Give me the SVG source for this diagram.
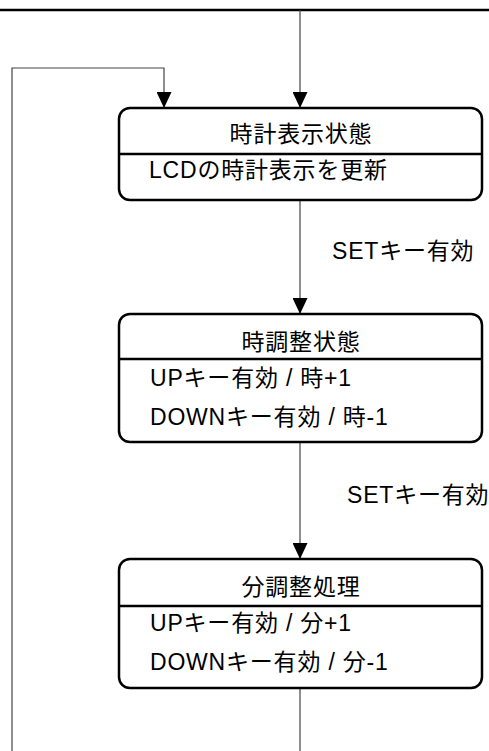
<svg xmlns="http://www.w3.org/2000/svg" width="489" height="751" viewBox="0 0 489 751">
<style>
.box{fill:#fff;stroke:#000;stroke-width:2.5}
.div{stroke:#000;stroke-width:2.5}
.conn{fill:none;stroke:#444;stroke-width:1.2}
text{font-family:"Liberation Sans","Noto Sans CJK JP",sans-serif;font-size:23px;fill:#000;letter-spacing:0.8px}
.t{text-anchor:middle}
</style>
<defs>
<marker id="arr" markerUnits="userSpaceOnUse" markerWidth="16" markerHeight="15" refX="16" refY="7.5" orient="auto">
<path d="M0,0 L16,7.5 L0,15 z" fill="#000"/>
</marker>
</defs>
<rect x="0" y="0" width="489" height="751" fill="#fff"/>
<line x1="0" y1="10" x2="489" y2="10" stroke="#000" stroke-width="2.5"/>
<g id="connectors">
<path class="conn" d="M300,10 V108" marker-end="url(#arr)"/>
<path class="conn" d="M12,751 V68 H164 V108" marker-end="url(#arr)"/>
<path class="conn" d="M300,200 V314" marker-end="url(#arr)"/>
<path class="conn" d="M300,442 V559" marker-end="url(#arr)"/>
<path class="conn" d="M300,688 V751"/>
<text x="332" y="259">SETキー有効</text>
<text x="347" y="503">SETキー有効</text>
</g>
<g id="clock-display">
<rect class="box" x="119" y="108" width="363" height="92" rx="11"/>
<line class="div" x1="119" y1="154" x2="482" y2="154"/>
<text class="t" x="301" y="142">時計表示状態</text>
<text x="149" y="178">LCDの時計表示を更新</text>
</g>
<g id="hour-adjust">
<rect class="box" x="119" y="314" width="363" height="128" rx="11"/>
<line class="div" x1="119" y1="359" x2="482" y2="359"/>
<text class="t" x="301" y="350">時調整状態</text>
<text x="150" y="386">UPキー有効 / 時+1</text>
<text x="150" y="425">DOWNキー有効 / 時-1</text>
</g>
<g id="minute-adjust">
<rect class="box" x="119" y="559" width="363" height="129" rx="11"/>
<line class="div" x1="119" y1="606" x2="482" y2="606"/>
<text class="t" x="301" y="595">分調整処理</text>
<text x="150" y="631">UPキー有効 / 分+1</text>
<text x="150" y="670">DOWNキー有効 / 分-1</text>
</g>
</svg>
